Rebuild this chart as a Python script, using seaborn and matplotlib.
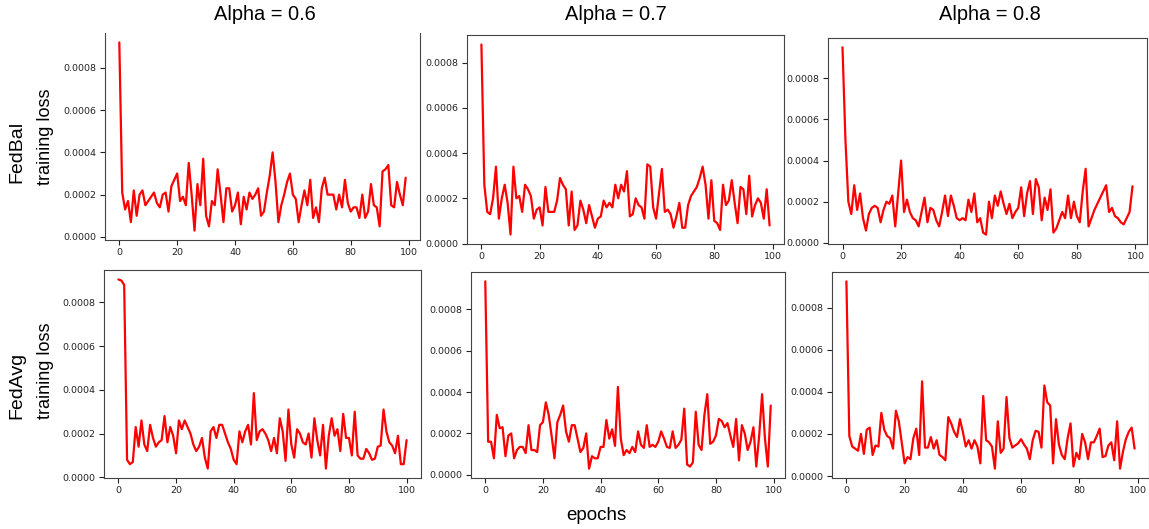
import numpy as np
import pandas as pd
import matplotlib
matplotlib.use("Agg")
import matplotlib.pyplot as plt
from matplotlib.ticker import FormatStrFormatter
import seaborn as sns

# Training loss per epoch (units of 1e-4), one list per (method, alpha)
fedbal_06 = [9.2, 2.1, 1.3, 1.7, 0.7, 2.2, 1.0, 2.0, 2.2, 1.5,
             1.7, 1.9, 2.1, 1.6, 1.4, 2.0, 2.1, 1.2, 2.4, 2.7,
             3.0, 1.7, 1.9, 1.5, 3.5, 2.0, 0.3, 2.5, 1.5, 3.7,
             1.0, 0.5, 1.7, 1.5, 3.2, 2.0, 0.7, 2.3, 2.3, 1.2,
             1.5, 2.1, 0.6, 1.9, 1.3, 2.1, 1.8, 2.0, 2.3, 1.0,
             1.2, 2.1, 2.9, 4.0, 2.6, 0.7, 1.5, 2.0, 2.6, 3.0,
             2.0, 1.8, 0.7, 1.5, 2.2, 1.5, 2.7, 0.9, 1.4, 0.7,
             2.3, 2.8, 2.0, 2.0, 2.0, 1.3, 2.0, 1.4, 2.7, 1.6,
             1.2, 1.4, 1.4, 0.9, 2.0, 0.9, 1.2, 2.5, 1.5, 1.4,
             0.5, 3.1, 3.2, 3.4, 1.5, 1.4, 2.6, 2.0, 1.5, 2.8]

fedbal_07 = [8.8, 2.6, 1.4, 1.3, 2.0, 3.4, 1.1, 2.0, 2.6, 1.8,
             0.4, 3.4, 2.0, 2.1, 1.4, 2.6, 2.4, 2.1, 1.1, 1.5,
             1.6, 0.8, 2.5, 1.4, 1.4, 1.4, 1.9, 2.9, 2.6, 2.4,
             0.8, 2.3, 0.6, 0.8, 1.9, 1.5, 0.9, 1.7, 1.2, 0.7,
             1.1, 1.2, 1.9, 1.6, 1.8, 1.6, 2.6, 2.0, 2.6, 2.3,
             3.2, 1.2, 1.3, 2.0, 1.7, 1.6, 1.1, 3.5, 3.4, 1.6,
             1.1, 2.2, 3.3, 1.4, 1.5, 1.3, 0.7, 1.2, 1.8, 0.7,
             0.7, 1.7, 2.1, 2.3, 2.5, 2.9, 3.4, 2.6, 1.1, 2.8,
             1.0, 0.9, 0.6, 2.6, 1.7, 1.9, 2.8, 1.8, 0.9, 2.5,
             2.4, 1.3, 3.0, 1.2, 1.7, 2.0, 1.8, 1.1, 2.4, 0.8]

fedbal_08 = [9.5, 5.0, 2.0, 1.4, 2.8, 1.6, 2.4, 1.2, 0.6, 1.4,
             1.7, 1.8, 1.7, 1.0, 1.6, 2.0, 1.9, 2.3, 0.8, 2.4,
             4.0, 1.5, 2.1, 1.5, 1.2, 1.1, 0.8, 1.5, 2.2, 1.0,
             1.7, 1.6, 1.1, 0.8, 1.5, 2.3, 1.3, 2.3, 1.8, 1.2,
             1.1, 1.2, 1.1, 2.1, 1.5, 2.4, 1.0, 1.2, 0.5, 0.4,
             2.0, 1.2, 2.3, 1.8, 2.5, 1.9, 1.4, 1.9, 1.2, 1.5,
             1.7, 2.7, 1.3, 2.4, 3.0, 1.4, 3.1, 2.7, 1.1, 2.2,
             1.6, 2.6, 0.5, 0.7, 1.1, 1.5, 1.2, 2.3, 1.2, 2.0,
             1.3, 1.0, 2.5, 3.6, 0.8, 1.2, 1.6, 1.9, 2.2, 2.5,
             2.8, 1.5, 1.7, 1.3, 1.2, 1.0, 0.9, 1.2, 1.5, 2.75]

fedavg_06 = [9.05, 9.0, 8.8, 0.8, 0.6, 0.7, 2.3, 1.4, 2.6, 1.5,
             1.2, 2.4, 1.8, 1.4, 1.6, 1.7, 2.8, 1.6, 2.3, 1.9,
             1.1, 2.6, 2.2, 2.6, 2.3, 2.0, 1.5, 1.2, 1.4, 1.8,
             0.9, 0.4, 2.1, 2.3, 1.8, 2.4, 2.4, 2.0, 1.6, 1.3,
             0.8, 0.6, 2.1, 1.6, 2.1, 2.4, 1.5, 3.85, 1.7, 2.1,
             2.2, 2.0, 1.7, 1.2, 1.8, 1.1, 2.7, 2.1, 0.75, 3.1,
             1.5, 0.9, 2.2, 2.0, 1.6, 1.5, 2.0, 0.9, 2.7, 1.7,
             1.0, 2.4, 0.4, 1.9, 2.7, 1.9, 2.2, 1.2, 2.9, 1.8,
             1.8, 1.0, 3.0, 1.0, 0.85, 0.85, 1.3, 1.1, 0.8, 0.85,
             1.4, 1.45, 3.1, 2.1, 1.6, 1.45, 1.1, 1.9, 0.6, 0.6,
             1.7]

fedavg_07 = [9.35, 1.6, 1.6, 0.8, 2.9, 2.25, 2.3, 0.9, 1.9, 2.0,
             0.8, 1.2, 1.35, 1.35, 1.05, 2.4, 1.2, 1.2, 1.1, 2.4,
             2.55, 3.5, 2.9, 1.9, 0.8, 2.55, 2.9, 3.35, 2.1, 1.6,
             2.4, 2.4, 1.75, 1.1, 1.3, 2.0, 0.3, 0.9, 0.8, 0.8,
             1.35, 1.35, 2.65, 1.75, 2.2, 1.4, 4.25, 1.75, 0.95, 1.2,
             1.05, 1.35, 1.1, 2.1, 1.45, 1.3, 2.4, 1.35, 1.45, 1.35,
             1.6, 2.1, 1.75, 1.35, 1.3, 2.1, 1.3, 1.45, 1.7, 3.2,
             0.5, 0.4, 0.6, 3.05, 1.45, 1.2, 2.9, 3.9, 1.5, 1.6,
             1.9, 2.7, 2.6, 2.3, 2.5, 1.9, 1.35, 2.7, 0.7, 2.4,
             2.0, 1.2, 1.6, 2.3, 0.4, 1.9, 3.9, 1.75, 0.4, 3.35]

fedavg_08 = [9.25, 1.9, 1.4, 1.3, 1.2, 2.0, 1.05, 2.2, 2.3, 1.0,
             1.45, 1.4, 3.0, 2.2, 1.9, 1.8, 1.3, 3.1, 2.6, 1.6,
             0.6, 0.9, 0.8, 1.8, 2.25, 1.0, 4.5, 1.35, 1.35, 1.85,
             1.3, 1.7, 1.0, 0.9, 0.75, 2.8, 2.5, 2.1, 1.85, 2.7,
             2.1, 1.4, 1.7, 1.3, 1.7, 1.4, 0.6, 3.8, 1.7, 1.6,
             1.4, 0.35, 2.6, 1.1, 1.3, 3.75, 1.8, 1.35, 1.45, 1.55,
             1.75, 1.5, 1.3, 0.8, 1.7, 2.15, 2.1, 1.35, 4.3, 3.5,
             3.35, 0.6, 2.7, 1.5, 1.0, 0.8, 1.8, 2.5, 0.45, 1.1,
             0.8, 2.0, 1.6, 0.8, 1.6, 1.6, 1.9, 2.25, 0.9, 0.95,
             1.45, 1.6, 0.75, 2.6, 0.35, 1.15, 1.75, 2.1, 2.3, 1.3]

row_names = ["FedBal", "FedAvg"]
alphas = ["0.6", "0.7", "0.8"]
series = [[fedbal_06, fedbal_07, fedbal_08],
          [fedavg_06, fedavg_07, fedavg_08]]

W, H = 1149, 529
sns.set_theme(style="ticks")
plt.rcParams["font.family"] = ["DejaVu Sans"]

fig = plt.figure(figsize=(W / 100, H / 100), dpi=100)
fig.patch.set_facecolor("white")

# Panel boxes in pixels: left, top, right, bottom
boxes = [[(105, 33, 420, 240), (467, 35, 784, 244), (828, 38, 1147, 244)],
         [(104, 270, 421, 478), (471, 272, 785, 478), (832, 272, 1149, 478)]]


def px_axes(box):
    l, t, r, b = box
    return fig.add_axes([l / W, 1 - b / H, (r - l) / W, (b - t) / H])


for i in range(2):
    for j in range(3):
        ax = px_axes(boxes[i][j])
        vals = np.array(series[i][j]) * 1e-4
        df = pd.DataFrame({"epoch": np.arange(len(vals)), "loss": vals})
        sns.lineplot(data=df, x="epoch", y="loss", ax=ax, color="red",
                     linewidth=1.6)
        ax.set_xlabel("")
        ax.set_ylabel("")
        ax.set_xticks([0, 20, 40, 60, 80, 100])
        ax.set_yticks([0, 0.0002, 0.0004, 0.0006, 0.0008])
        ax.yaxis.set_major_formatter(FormatStrFormatter("%.4f"))
        ax.tick_params(labelsize=6.8, length=3.5, width=0.8,
                       colors="#222222", pad=2.5)
        for s in ax.spines.values():
            s.set_color("#444444")
            s.set_linewidth(0.8)
        if i == 0 and j == 0:
            ax.spines["top"].set_visible(False)

sans = ["Liberation Sans", "DejaVu Sans"]


def fig_text(x, y, s, size, rot=0):
    fig.text(x / W, 1 - y / H, s, fontsize=size, rotation=rot,
             ha="center", va="center", family=sans, color="black")


for j, (cx) in enumerate([265, 616, 990]):
    fig_text(cx, 15, f"Alpha = {alphas[j]}", 14.4)

for i, (cy_name, cy_lbl) in enumerate([(152, 137), (385, 371)]):
    fig_text(17, cy_name, row_names[i], 14, rot=90)
    fig_text(46, cy_lbl, "training loss", 13, rot=90)

fig_text(596, 515, "epochs", 13.5)

fig.savefig("out.png", dpi=100, facecolor="white")
